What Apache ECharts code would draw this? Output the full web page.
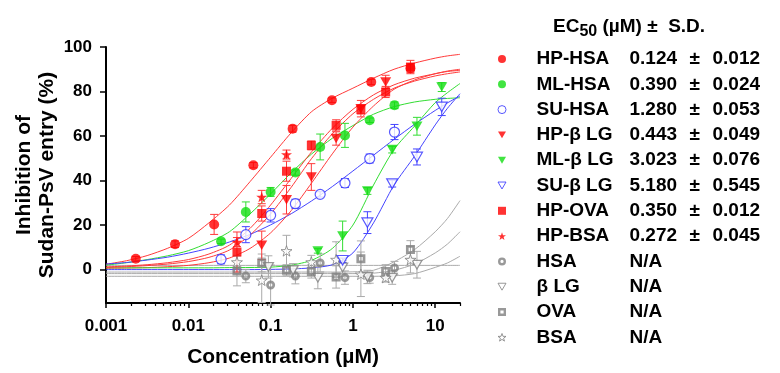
<!DOCTYPE html>
<html><head><meta charset="utf-8">
<script src="https://cdn.jsdelivr.net/npm/echarts@6/dist/echarts.min.js"></script>
<style>html,body{margin:0;padding:0;background:#fff}#c{width:780px;height:373px}</style>
</head><body><div id="c"></div>
<script>
// ---- legend / EC50 table ----
const names  = ['HP-HSA','ML-HSA','SU-HSA','HP-β LG','ML-β LG','SU-β LG','HP-OVA','HP-BSA','HSA','β LG','OVA','BSA'];
const ec50   = ['0.124','0.390','1.280','0.443','3.023','5.180','0.350','0.272','N/A','N/A','N/A','N/A'];
const ec50SD = ['0.012','0.024','0.053','0.049','0.076','0.545','0.012','0.045','','','',''];

// ---- tick labels ----
const xTickValues = [0.001, 0.01, 0.1, 1, 10];
const yTickValues = [0, 20, 40, 60, 80, 100];

// ---- measured points: concentration (µM), inhibition (%), S.D. ----
const hpHsaX = [0.0023, 0.0069, 0.0206, 0.0617, 0.185, 0.556, 1.67, 5.0];
const hpHsaY = [4.9, 11.4, 20.3, 46.9, 63.3, 76.1, 84.3, 90.5];
const hpHsaE = [1.0, 1.5, 4.5, 1.2, 1.5, 1.0, 1.2, 2.0];

const mlHsaX = [0.025, 0.05, 0.1, 0.2, 0.4, 0.8, 1.6, 3.2];
const mlHsaY = [12.7, 25.9, 34.9, 43.6, 55.1, 60.3, 67.1, 73.8];
const mlHsaE = [1.0, 4.5, 2.0, 1.2, 5.8, 5.4, 1.0, 1.5];

const suHsaX = [0.025, 0.05, 0.1, 0.2, 0.4, 0.8, 1.6, 3.2];
const suHsaY = [4.6, 15.7, 24.4, 29.6, 33.8, 38.9, 49.9, 61.8];
const suHsaE = [2.0, 3.6, 3.0, 2.0, 1.2, 2.0, 2.0, 3.4];

const hpLgX = [0.078, 0.156, 0.3125, 0.625, 1.25, 2.5];
const hpLgY = [10.9, 31.4, 41.6, 58.9, 72.3, 84.3];
const hpLgE = [6.4, 6.4, 6.0, 3.0, 3.7, 3.0];

const mlLgX = [0.375, 0.75, 1.5, 3.0, 6.0, 12.0];
const mlLgY = [8.4, 15.1, 35.3, 53.9, 64.4, 82.0];
const mlLgE = [1.0, 6.7, 1.5, 1.5, 4.0, 2.0];

const suLgX = [0.75, 1.5, 3.0, 6.0, 12.0];
const suLgY = [4.2, 21.1, 38.6, 50.6, 73.1];
const suLgE = [1.0, 4.9, 1.5, 3.6, 3.9];

const hpOvaX = [0.039, 0.078, 0.156, 0.3125, 0.625, 1.25, 2.5, 5.0];
const hpOvaY = [7.9, 25.2, 44.2, 55.8, 64.8, 71.9, 79.8, 91.0];
const hpOvaE = [9.0, 3.4, 4.5, 2.0, 2.5, 2.0, 2.5, 3.0];

const hpBsaX = [0.039, 0.078, 0.156];
const hpBsaY = [12.4, 32.6, 51.7];
const hpBsaE = [2.0, 3.0, 2.0];

const hsaX = [0.05, 0.1, 0.2, 0.4, 0.8, 1.6, 3.2];
const hsaY = [-2.9, -6.9, -2.9, 3.0, -3.6, -3.6, 0.7];
const hsaE = [3.0, 9.0, 3.5, 4.0, 3.0, 2.5, 3.0];

const lgX = [0.094, 0.1875, 0.375, 0.75, 1.5, 3.0, 6.0];
const lgY = [1.2, -0.3, -3.6, 1.0, -3.3, -3.6, 2.2];
const lgE = [5.0, 3.0, 5.0, 3.0, 3.0, 3.0, 6.0];

const ovaX = [0.039, 0.078, 0.156, 0.3125, 0.625, 1.25, 2.5, 5.0];
const ovaY = [-0.6, 3.0, -0.3, -0.8, -3.3, 4.9, -0.8, 9.0];
const ovaE = [6.7, 4.0, 2.5, 3.0, 5.0, 8.0, 3.0, 4.0];

const bsaX = [0.039, 0.078, 0.156, 0.3125, 0.625, 1.25, 2.5, 5.0];
const bsaY = [3.4, -4.8, 8.4, 3.4, 4.5, -2.1, -3.6, 4.5];
const bsaE = [3.0, 10.0, 7.0, 3.0, 8.0, 10.0, 2.0, 6.0];

// ---- fitted curves at quarter-decade steps ----
const curveX   = [0.001, 0.00178, 0.00316, 0.00562, 0.01, 0.0178, 0.0316, 0.0562, 0.1, 0.178,
                  0.316, 0.562, 1, 1.78, 3.16, 5.62, 10, 14.1, 20];
const fitHpHsa = [2.4, 4.0, 6.3, 9.6, 14, 21, 29, 39.5, 50.5, 61.5, 71, 77, 81.5, 86, 90, 92.8, 95, 96, 96.7];
const fitMlHsa = [2, 3.1, 4.5, 6.2, 8.5, 12.2, 17, 25, 34, 43.5, 52, 59, 64.7, 69.8, 73.2, 75.3, 76.5, 76.9, 77.2];
const fitSuHsa = [2.5, 3.2, 4.3, 5.6, 7.4, 9.6, 12.4, 15.8, 20.1, 25.1, 30.9, 37.3, 44.3, 51.4, 58.5, 65.3, 71.5, 74.9, 78];
const fitHpLg  = [0.6, 0.7, 0.9, 1.3, 1.9, 3.1, 5.2, 9.5, 16.5, 26.5, 39, 52, 64, 73.5, 81, 85.2, 88, 89, 89.5];
const fitHpOva = [1.0, 1.3, 1.8, 2.5, 3.6, 5.5, 8.8, 15.5, 25, 37, 50, 61, 70, 76.5, 81.5, 84.7, 87, 88, 88.8];
const fitHpBsa = [1.2, 1.6, 2.2, 3.1, 4.5, 7, 11, 18.5, 29, 41, 53, 63.5, 72, 78.5, 83, 86, 88, 89.2, 90];
const fitMlLg  = [0.8, 0.8, 0.8, 0.8, 0.8, 0.8, 0.9, 0.95, 1.1, 2.0, 4.2, 9.5, 20, 38, 54, 64.5, 75, 79.5, 83.6];
const fitSuLg  = [0, 0, 0, 0, 0, 0, 0, 0, 0.1, 0.3, 0.8, 2.2, 7.5, 21, 38, 51, 65, 72.5, 79];
const fitGrey1 = [-1.1, -1.1, -1.1, -1.1, -1.1, -1.1, -1.1, -1.1, -1.1, -1.1, -1.1, -1.1, -1.0, -0.3, 3.5, 9, 17, 23, 31];
const fitGrey2 = [-1.8, -1.8, -1.8, -1.8, -1.8, -1.8, -1.8, -1.8, -1.8, -1.8, -1.8, -1.8, -1.8, -1.6, -0.3, 2.5, 7.5, 11.5, 17];
const fitGrey3 = [-3, -3, -3, -3, -3, -3, -3, -3, -3, -3, -3, -3, -3, -3, -2.8, -1.8, 1, 3, 6];
const fitGrey4 = [1.9, 1.9, 1.9, 1.9, 1.9, 1.9, 1.9, 1.9, 1.9, 1.9, 1.9, 1.9, 1.9, 1.9, 1.9, 1.9, 1.9, 1.9, 1.9];

// ---- styling ----
const RED = '#ff0000', GREEN = '#11dd11', BLUE = '#3030ff', GREY = '#7f7f7f';
const RED_L = '#ff3a3a', GREEN_L = '#33dd33', BLUE_L = '#4444ff', GREY_L = '#aaaaaa';
const FONT = "'Liberation Sans', Arial, Helvetica, sans-serif";
const STAR = 'path://M0,-10 L2.35,-3.24 L9.51,-3.09 L3.8,1.24 L5.88,8.09 L0,4 L-5.88,8.09 L-3.8,1.24 L-9.51,-3.09 L-2.35,-3.24 Z';
const DTRI = 'path://M0,0 L10,0 L5,8.66 Z';
const RING = 'path://M5,0 A5,5 0 1,1 5,10 A5,5 0 1,1 5,0 Z M5,3 A2,2 0 1,0 5,7 A2,2 0 1,0 5,3 Z';
const HOLEBOX = 'path://M0,0 L10,0 L10,10 L0,10 Z M3,3 L3,7 L7,7 L7,3 Z';

const zip2 = (xs, ys) => xs.map((x, i) => [x, ys[i]]);
const zip3 = (xs, ys, es) => xs.map((x, i) => [x, ys[i], es[i]]);

function curve(ys, color) {
  return { type: 'line', data: zip2(curveX, ys), smooth: 0.25,
    symbol: 'none', silent: true, z: 2, lineStyle: { width: 1, color: color } };
}
function errBars(xs, ys, es, color) {
  return { type: 'custom', data: zip3(xs, ys, es), silent: true, z: 3, clip: false,
    encode: { x: 0, y: 1 },
    renderItem: function (params, api) {
      const x = api.value(0), y = api.value(1), e = api.value(2);
      const t = api.coord([x, y + e]), b = api.coord([x, y - e]);
      const h = 4;
      const st = { stroke: color, lineWidth: 1 };
      return { type: 'group', children: [
        { type: 'line', shape: { x1: t[0], y1: t[1], x2: b[0], y2: b[1] }, style: st },
        { type: 'line', shape: { x1: t[0] - h, y1: t[1], x2: t[0] + h, y2: t[1] }, style: st },
        { type: 'line', shape: { x1: b[0] - h, y1: b[1], x2: b[0] + h, y2: b[1] }, style: st }
      ] };
    } };
}
function pts(name, xs, ys, symbol, size, itemStyle) {
  return { type: 'scatter', name: name, data: zip2(xs, ys), symbol: symbol, symbolSize: size,
    symbolKeepAspect: true, itemStyle: itemStyle, z: 5, silent: true };
}

const minorTicks = [];
[0.001, 0.01, 0.1, 1, 10].forEach(d => {
  for (let k = 2; k <= 9; k++) { const v = parseFloat((k * d).toPrecision(3)); if (v <= 20) minorTicks.push(v); }
});

const series = [
  curve(fitGrey1, GREY_L), curve(fitGrey2, GREY_L), curve(fitGrey3, GREY_L), curve(fitGrey4, GREY_L),
  curve(fitHpHsa, RED_L), curve(fitMlHsa, GREEN_L), curve(fitSuHsa, BLUE_L),
  curve(fitHpLg, RED_L), curve(fitMlLg, GREEN_L), curve(fitSuLg, BLUE_L),
  curve(fitHpOva, RED_L), curve(fitHpBsa, RED_L),

  errBars(hsaX, hsaY, hsaE, GREY_L), errBars(lgX, lgY, lgE, GREY_L),
  errBars(ovaX, ovaY, ovaE, GREY_L), errBars(bsaX, bsaY, bsaE, GREY_L),
  errBars(hpHsaX, hpHsaY, hpHsaE, RED_L), errBars(mlHsaX, mlHsaY, mlHsaE, GREEN_L),
  errBars(suHsaX, suHsaY, suHsaE, BLUE_L), errBars(hpLgX, hpLgY, hpLgE, RED_L),
  errBars(mlLgX, mlLgY, mlLgE, GREEN_L), errBars(suLgX, suLgY, suLgE, BLUE_L),
  errBars(hpOvaX, hpOvaY, hpOvaE, RED_L), errBars(hpBsaX, hpBsaY, hpBsaE, RED_L),

  pts(names[8], hsaX, hsaY, RING, 9, { color: GREY }),
  pts(names[9], lgX, lgY, DTRI, 10, { color: '#fff', borderColor: GREY, borderWidth: 1.3 }),
  pts(names[10], ovaX, ovaY, HOLEBOX, 9, { color: GREY }),
  pts(names[11], bsaX, bsaY, STAR, 11, { color: '#fff', borderColor: GREY, borderWidth: 1 }),
  pts(names[0], hpHsaX, hpHsaY, 'circle', 10, { color: RED }),
  pts(names[1], mlHsaX, mlHsaY, 'circle', 10, { color: GREEN }),
  pts(names[2], suHsaX, suHsaY, 'circle', 10, { color: '#fff', borderColor: BLUE, borderWidth: 1.2 }),
  pts(names[3], hpLgX, hpLgY, DTRI, 11, { color: RED }),
  pts(names[4], mlLgX, mlLgY, DTRI, 11, { color: GREEN }),
  pts(names[5], suLgX, suLgY, DTRI, 11, { color: '#fff', borderColor: BLUE, borderWidth: 1.2 }),
  pts(names[6], hpOvaX, hpOvaY, 'rect', 9, { color: RED }),
  pts(names[7], hpBsaX, hpBsaY, STAR, 11, { color: RED })
];

// legend entries: hollow markers get a thin outline in the legend
const hollow = { 'SU-HSA': BLUE, 'SU-β LG': BLUE, 'β LG': GREY, 'BSA': GREY };
const legendData = names.map(n => hollow[n]
  ? { name: n, itemStyle: { color: '#fff', borderColor: hollow[n], borderWidth: 1 } }
  : { name: n });

const chart = echarts.init(document.getElementById('c'), null, { renderer: 'canvas' });
const rt = { fontSize: 19, fontWeight: 'bold', color: '#000', fontFamily: FONT, lineHeight: 20 };
chart.setOption({
  animation: false,
  backgroundColor: '#fff',
  textStyle: { fontFamily: FONT },
  title: {
    left: 553, top: 14, padding: 0,
    text: '{a|EC}{s|50}{a| (µM) ±  S.D.}',
    textStyle: { rich: {
      a: { fontSize: 19, fontWeight: 'bold', color: '#000', fontFamily: FONT, lineHeight: 26, verticalAlign: 'middle' },
      s: { fontSize: 16, fontWeight: 'bold', color: '#000', fontFamily: FONT, lineHeight: 16, verticalAlign: 'bottom' }
    } }
  },
  legend: {
    data: legendData, orient: 'vertical', left: 497.5, top: 49, padding: 0,
    itemWidth: 8, itemHeight: 8, itemGap: 5.3, selectedMode: false,
    formatter: function (name) {
      const i = names.indexOf(name);
      return ec50SD[i] ? '{n|' + name + '}{v|' + ec50[i] + '}{p|±}{s|' + ec50SD[i] + '}'
                       : '{n|' + name + '}{v|' + ec50[i] + '}';
    },
    textStyle: Object.assign({}, rt, { rich: {
      n: Object.assign({}, rt, { width: 93, padding: [0, 0, 0, 25.5] }),
      v: Object.assign({}, rt, { width: 60 }),
      p: Object.assign({}, rt, { width: 23 }),
      s: Object.assign({}, rt)
    } })
  },
  grid: { left: 106, right: 320, top: 47, bottom: 70, containLabel: false },
  xAxis: [{
    type: 'log', logBase: 10, min: 0.001, max: 20,
    name: 'Concentration (µM)', nameLocation: 'middle', nameGap: 44,
    nameTextStyle: { fontSize: 21, fontWeight: 'bold', color: '#000', fontFamily: FONT },
    axisLine: { onZero: false, lineStyle: { color: '#000', width: 2 } },
    axisTick: { customValues: xTickValues, length: 5, lineStyle: { color: '#000', width: 1.5 } },
    axisLabel: { customValues: xTickValues, margin: 15, fontSize: 17, fontWeight: 'bold', color: '#000', fontFamily: FONT,
      formatter: v => String(v) },
    splitLine: { show: false }, minorTick: { show: false }
  }, {
    type: 'log', logBase: 10, min: 0.001, max: 20, position: 'bottom', gridIndex: 0,
    axisLine: { show: false, onZero: false },
    axisTick: { customValues: minorTicks, length: 3, lineStyle: { color: '#000', width: 1.2 } },
    axisLabel: { show: false }, splitLine: { show: false }
  }],
  yAxis: {
    type: 'value', min: -15, max: 100,
    name: 'Inhibition of\nSudan-PsV entry (%)', nameLocation: 'middle', nameGap: 47, nameRotate: 90,
    nameTextStyle: { fontSize: 21, fontWeight: 'bold', color: '#000', fontFamily: FONT, lineHeight: 23 },
    axisLine: { show: true, onZero: false, lineStyle: { color: '#000', width: 2 } },
    axisTick: { show: true, customValues: yTickValues, length: 6, lineStyle: { color: '#000', width: 1.5 } },
    axisLabel: { customValues: yTickValues, margin: 14, fontSize: 17, fontWeight: 'bold', color: '#000', fontFamily: FONT },
    splitLine: { show: false }
  },
  series: series
});
</script></body></html>
